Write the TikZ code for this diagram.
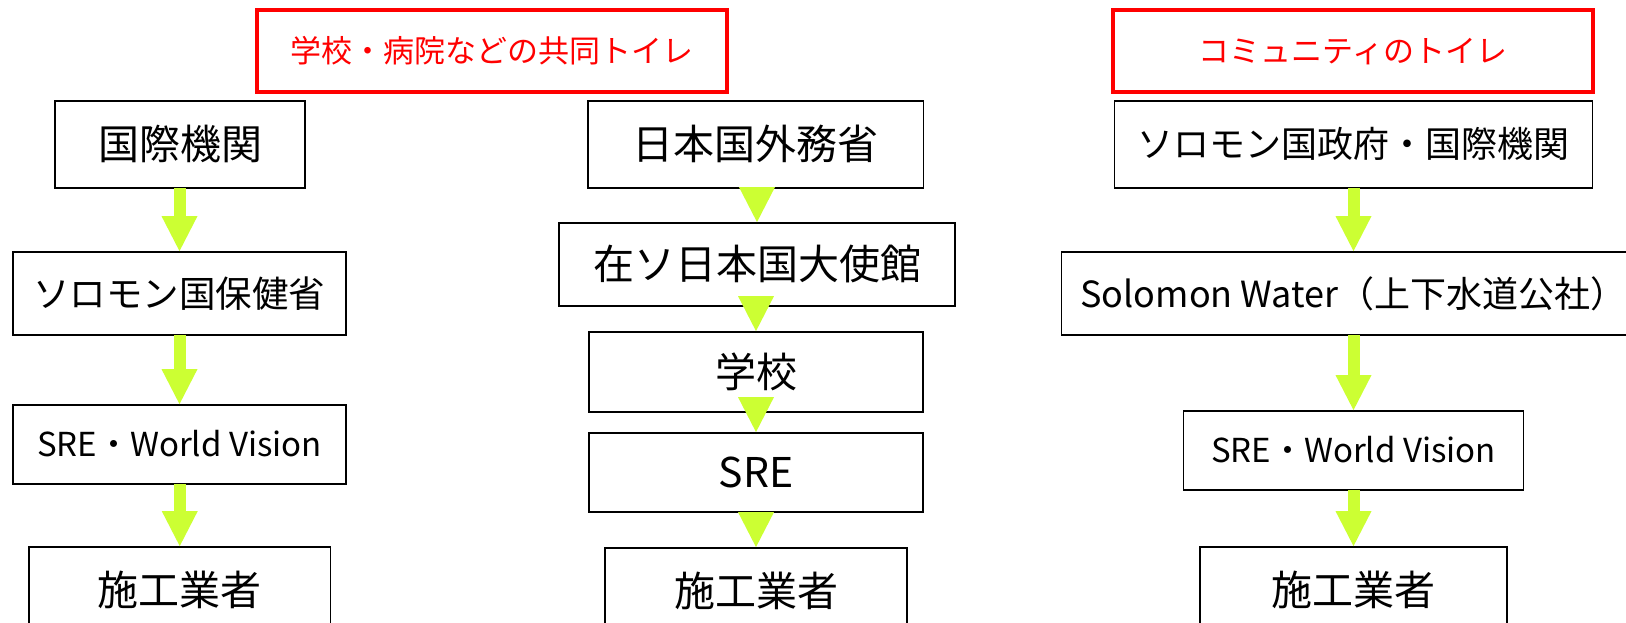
\documentclass[tikz,border=0pt]{standalone}
\usepackage{fontspec}
\setmainfont{Noto Sans CJK JP}
\usetikzlibrary{calc}
\definecolor{arrowc}{RGB}{204,255,51}
\definecolor{redc}{RGB}{255,0,0}
\tikzset{
  box/.style={draw=black, line width=1.8pt, inner sep=0pt, align=center},
  redbox/.style={draw=redc, line width=4.5pt, inner sep=0pt, text=redc,
    font=\fontsize{31}{31}\selectfont, text height=23.25pt, text depth=0pt},
  fbig/.style={font=\fontsize{41}{41}\selectfont, text height=30.75pt, text depth=0pt},
  fmid/.style={font=\fontsize{36.5}{36.5}\selectfont, text height=27.4pt, text depth=0pt},
  fgov/.style={font=\fontsize{36}{36}\selectfont, text height=27pt, text depth=0pt},
  fwat/.style={font=\fontsize{36}{36}\selectfont, text height=27pt, text depth=0pt},
  fsm/.style={font=\fontsize{33}{33}\selectfont, text height=24.75pt, text depth=0pt},
}
\newcommand\fatarrow[2]{%
  \fill[arrowc] let \p1=(#1.south), \p2=(#2.north) in
    (\x2-6pt,\y1+0.9pt) rectangle (\x2+6pt,\y2+34.5pt);
  \fill[arrowc] let \p2=(#2.north) in
    (\x2-18pt,\y2+35pt) -- (\x2,\y2) -- (\x2+18pt,\y2+35pt) -- cycle;}
\begin{document}
\begin{tikzpicture}[x=1pt,y=-1pt]
\useasboundingbox (0,0) rectangle (1626,623);
\clip (0,0) rectangle (1626,623);
\fill[white] (0,0) rectangle (1626,623);
% headers
\node[redbox, minimum width=470pt, minimum height=82pt] (T0) at (492,51) {学校・病院などの共同トイレ};
\node[redbox, minimum width=480pt, minimum height=82pt] (R0) at (1353,51) {コミュニティのトイレ};
% left column
\node[box, fbig, minimum width=250pt, minimum height=87pt] (L1) at (180,144.5) {国際機関};
\node[box, fmid, minimum width=333pt, minimum height=83pt] (L2) at (179.5,293.5) {ソロモン国保健省};
\node[box, fsm, minimum width=333pt, minimum height=79pt] (L3) at (179.5,444.5) {SRE・World Vision};
\node[box, fbig, minimum width=301.5pt, minimum height=86pt] (L4) at (179.75,590) {施工業者};
% middle column
\node[box, fbig, minimum width=335.5pt, minimum height=87pt] (M1) at (755.75,144.5) {日本国外務省};
\node[box, fbig, minimum width=396pt, minimum height=83pt] (M2) at (757,264.5) {在ソ日本国大使館};
\node[box, fbig, minimum width=334.5pt, minimum height=80pt] (M3) at (756,372) {学校};
\node[box, fbig, minimum width=334.5pt, minimum height=79pt] (M4) at (756,472.5) {SRE};
\node[box, fbig, minimum width=302pt, minimum height=86pt] (M5) at (756,591) {施工業者};
% right column
\node[box, fgov, minimum width=478pt, minimum height=87pt] (R1) at (1353.5,144.5) {ソロモン国政府・国際機関};
\node[box, fwat, minimum width=584pt, minimum height=83pt] (R2) at (1353.5,293.5) {Solomon Water（上下水道公社）};
\node[box, fsm, minimum width=340pt, minimum height=79pt] (R3) at (1353.5,450.5) {SRE・World Vision};
\node[box, fbig, minimum width=307pt, minimum height=86pt] (R4) at (1353.5,590) {施工業者};
% arrows
\fatarrow{L1}{L2}
\fatarrow{L2}{L3}
\fatarrow{L3}{L4}
\fatarrow{M1}{M2}
\fatarrow{M2}{M3}
\fatarrow{M3}{M4}
\fatarrow{M4}{M5}
\fatarrow{R1}{R2}
\fatarrow{R2}{R3}
\fatarrow{R3}{R4}
\end{tikzpicture}
\end{document}
